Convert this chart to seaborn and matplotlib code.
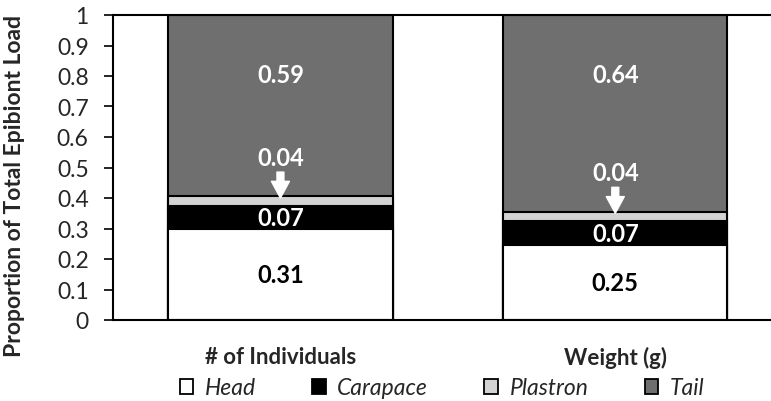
import numpy as np
import pandas as pd
import matplotlib
matplotlib.use("Agg")
import matplotlib.pyplot as plt
from matplotlib.patches import Patch
import seaborn as sns

# data
categories = ["# of Individuals", "Weight (g)"]
parts = ["Head", "Carapace", "Plastron", "Tail"]
head = [0.30, 0.245]
carapace = [0.075, 0.08]
plastron = [0.03, 0.03]
tail = [0.595, 0.645]
head_lbl = ["0.31", "0.25"]
carapace_lbl = ["0.07", "0.07"]
plastron_lbl = ["0.04", "0.04"]
tail_lbl = ["0.59", "0.64"]
colors = ["#ffffff", "#000000", "#d3d3d3", "#6f6f6f"]

sns.set_style("white")
plt.rcParams["font.family"] = ["Lato", "DejaVu Sans"]

df = pd.DataFrame({"cat": categories, "Head": head, "Carapace": carapace,
                   "Plastron": plastron, "Tail": tail})
cum = df[parts].cumsum(axis=1)

fig = plt.figure(figsize=(7.71, 4.02), dpi=100)
ax = fig.add_axes([113 / 771, 81 / 402, 658 / 771, 305 / 402])

# stacked bars: draw cumulative totals from the top segment down
for p, c in zip(parts[::-1], colors[::-1]):
    sns.barplot(x=df["cat"], y=cum[p], color=c, width=0.67, edgecolor="black",
                linewidth=1.5, saturation=1, ax=ax, order=categories)

ax.set_xlim(-0.5, 1.465)
ax.set_ylim(0, 1)
ax.set_yticks(np.arange(0, 1.01, 0.1))
ax.set_yticklabels(["0"] + ["%.1f" % v for v in np.arange(0.1, 0.95, 0.1)] + ["1"])
ax.tick_params(axis="y", direction="out", length=6.5, width=1.2, pad=11,
               labelsize=16.5, left=True, color="black")
ax.tick_params(axis="x", length=0, pad=19, labelsize=16)
for lbl in ax.get_xticklabels():
    lbl.set_fontweight("bold")
ax.set_xlabel("")
ax.set_ylabel("Proportion of Total Epibiont Load", fontsize=16.5, fontweight="bold")
ax.yaxis.set_label_coords(-0.134, 0.443)

for s in ["left", "bottom", "top"]:
    ax.spines[s].set_visible(True)
    ax.spines[s].set_color("black")
    ax.spines[s].set_linewidth(1.5)
ax.spines["right"].set_visible(False)

for i in range(len(categories)):
    ax.text(i, head[i] / 2, head_lbl[i], ha="center", va="center",
            fontsize=17, fontweight="bold", color="black")
    ax.text(i, head[i] + carapace[i] / 2, carapace_lbl[i], ha="center", va="center",
            fontsize=17, fontweight="bold", color="white")
    top_pl = head[i] + carapace[i] + plastron[i]
    ax.text(i, 0.805, tail_lbl[i], ha="center", va="center",
            fontsize=17, fontweight="bold", color="white")
    ax.text(i, top_pl + 0.128, plastron_lbl[i], ha="center", va="center",
            fontsize=17, fontweight="bold", color="white")
    ax.annotate("", xy=(i, top_pl - 0.005), xytext=(i, top_pl + 0.08),
                arrowprops=dict(facecolor="white", edgecolor="white", width=5,
                                headwidth=13, headlength=12, shrink=0))

handles = [Patch(facecolor=c, edgecolor="black", linewidth=1.3, label=p)
           for p, c in zip(parts, colors)]
leg = fig.legend(handles=handles, loc="center", bbox_to_anchor=(442 / 771, 13 / 402),
                 ncol=4, frameon=False, handlelength=0.6, handleheight=0.6,
                 handletextpad=0.5, columnspacing=2.45,
                 prop={"size": 16.5, "style": "italic"})

fig.savefig("out.png", dpi=100)
